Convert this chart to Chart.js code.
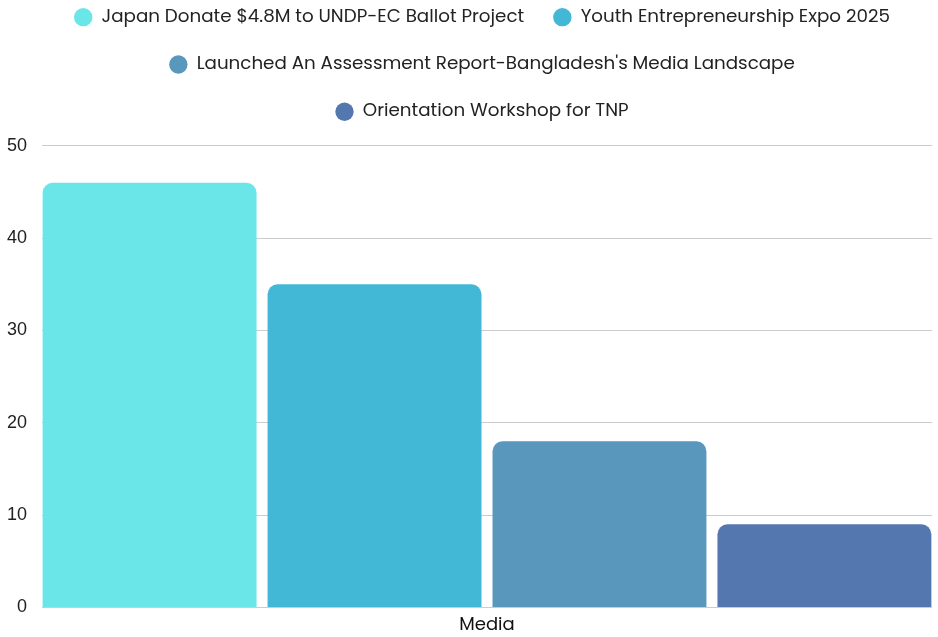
<!DOCTYPE html>
<html>
<head>
<meta charset="utf-8">
<script src="https://cdn.jsdelivr.net/npm/chart.js@4"></script>
<style>
  html, body { margin: 0; padding: 0; background: #fff; overflow: hidden; }
  #wrap { position: absolute; left: 0; top: -21px; width: 938px; height: 664px; }
</style>
</head>
<body>
<div id="wrap"><canvas id="bar_chart" width="938" height="664"></canvas></div>
<script>
// DATA
const categories = ['Media'];
const series_names = [
	'Japan Donate $4.8M to UNDP-EC Ballot Project',
	'Youth Entrepreneurship Expo 2025',
	"Launched An Assessment Report-Bangladesh's Media Landscape",
	'Orientation Workshop for TNP'
];
const series_values = [[46], [35], [18], [9]];
const series_colors = ['#6ae6e8', '#42b8d6', '#5997bc', '#5577af'];
const y_ticks = [0, 10, 20, 30, 40, 50];

const ctx = document.getElementById('bar_chart').getContext('2d');

// extra room under the legend, and legend centred over the plot area
const legendTweak = {
	id: 'legendTweak',
	beforeInit(chart) {
		const fit = chart.legend.fit;
		chart.legend.fit = function () {
			fit.bind(chart.legend)();
			this.height += 15;
		};
	},
	afterLayout(chart) {
		chart.legend.left += 16;
		chart.legend.right += 16;
	}
};

const datasets = series_names.map((name, i) => ({
	label: name,
	data: series_values[i],
	backgroundColor: series_colors[i],
	borderColor: series_colors[i],
	borderWidth: 0,
	borderRadius: 10,
	categoryPercentage: 1.011,
	barPercentage: 0.951
}));

new Chart(ctx, {
	type: 'bar',
	data: { labels: categories, datasets: datasets },
	plugins: [legendTweak],
	options: {
		responsive: false,
		animation: false,
		layout: { padding: { left: 0, right: 6, top: 0, bottom: 0 } },
		plugins: {
			legend: {
				position: 'top',
				labels: {
					usePointStyle: true,
					pointStyle: 'circle',
					boxHeight: 13,
					padding: 29,
					color: '#222',
					font: { family: '"Poppins", "Open Sans", sans-serif', size: 18.3 }
				}
			},
			tooltip: { enabled: false }
		},
		scales: {
			x: {
				grid: { display: false, drawTicks: false },
				border: { display: false },
				ticks: {
					color: '#111',
					padding: 7,
					font: { family: '"Poppins", "Open Sans", sans-serif', size: 18 }
				}
			},
			y: {
				min: y_ticks[0],
				max: y_ticks[y_ticks.length - 1],
				afterFit(scale) { scale.width = 42; },
				grid: { color: '#cccccc', drawTicks: false },
				border: { display: false },
				ticks: {
					stepSize: 10,
					color: '#222',
					padding: 15,
					font: { family: '"Liberation Sans", Arial, sans-serif', size: 18 }
				}
			}
		}
	}
});
</script>
</body>
</html>
